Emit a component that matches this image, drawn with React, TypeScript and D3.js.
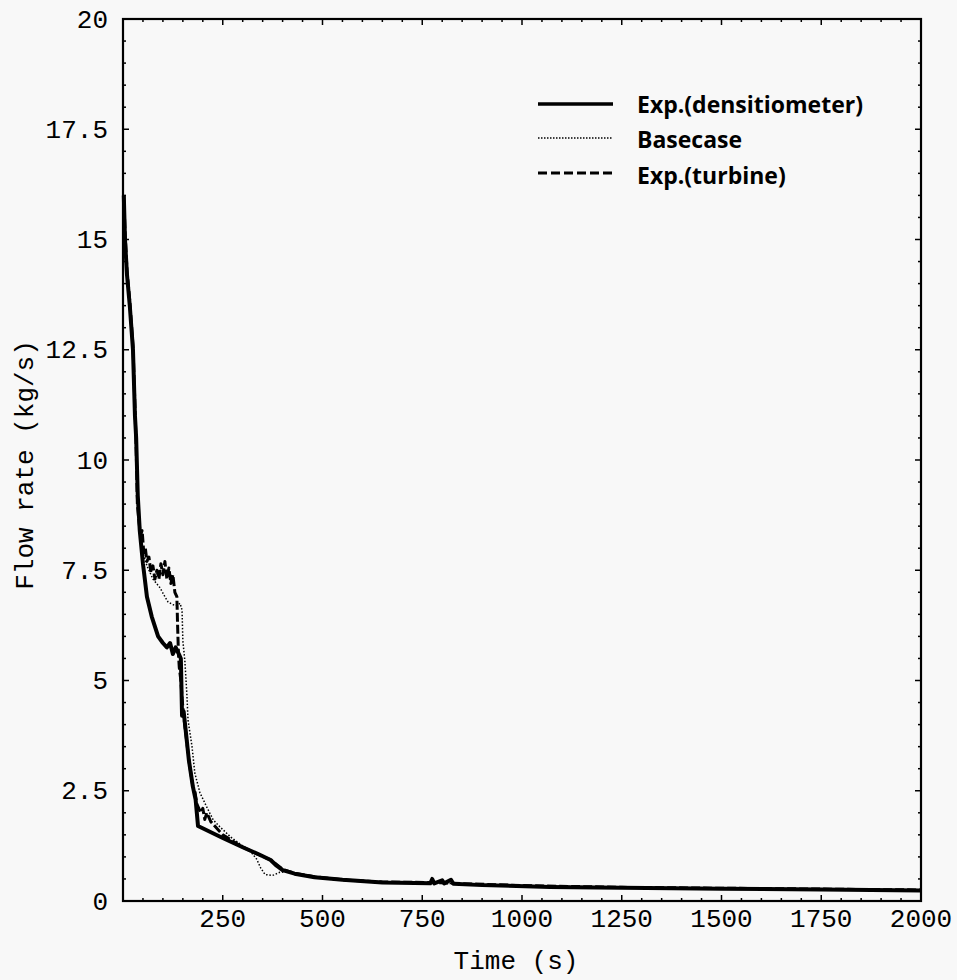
import React from "react";
import * as d3 from "d3";

// ---- data ----
const densT = [2, 5, 10, 17, 25, 30, 33, 37, 42, 50, 60, 72, 88, 100, 110, 118, 125, 132, 140, 145, 148, 152, 158, 165, 175, 182, 188, 250, 300, 340, 370, 385, 400, 430, 480, 550, 650, 770, 775, 780, 800, 805, 822, 828, 900, 1070, 1250, 1500, 1750, 2000];
const densV = [16.0, 15.0, 14.2, 13.5, 12.5, 11.0, 10.5, 9.2, 8.4, 7.65, 6.9, 6.45, 6.0, 5.85, 5.75, 5.85, 5.6, 5.75, 5.6, 5.5, 4.2, 4.3, 3.8, 3.2, 2.6, 2.3, 1.7, 1.43, 1.22, 1.06, 0.93, 0.8, 0.7, 0.62, 0.54, 0.48, 0.42, 0.4, 0.5, 0.4, 0.47, 0.4, 0.48, 0.39, 0.36, 0.32, 0.3, 0.28, 0.26, 0.24];

const baseT = [2, 5, 10, 17, 25, 30, 33, 37, 40, 45, 50, 60, 75, 93, 105, 113, 125, 135, 143, 148, 150, 155, 160, 163, 173, 180, 193, 210, 226, 243, 270, 300, 318, 335, 345, 356, 375, 393, 410, 450, 500, 600, 800, 1000, 1250, 1500, 1750, 2000];
const baseV = [16.0, 15.1, 14.3, 13.6, 12.6, 11.3, 10.4, 9.2, 8.6, 8.2, 7.9, 7.6, 7.3, 7.1, 6.9, 6.78, 6.72, 6.7, 6.75, 6.6, 5.9, 5.45, 4.7, 4.1, 3.5, 2.9, 2.45, 2.13, 1.84, 1.68, 1.45, 1.25, 1.14, 0.95, 0.75, 0.6, 0.58, 0.65, 0.66, 0.6, 0.53, 0.45, 0.4, 0.35, 0.31, 0.29, 0.27, 0.25];

const turbT = [2, 5, 10, 17, 25, 30, 33, 36, 40, 44, 48, 52, 56, 60, 65, 70, 75, 80, 85, 90, 95, 100, 105, 110, 115, 120, 125, 130, 135, 137, 139, 141, 145, 148, 152, 156, 160, 165, 170, 175, 180, 185, 190, 195, 200, 205, 210, 220, 235, 250, 300, 340, 370, 400, 430, 480, 550, 650, 780, 830, 1000, 1250, 1500, 1750, 2000];
const turbV = [16.0, 15.2, 14.3, 13.6, 12.6, 11.2, 10.3, 9.0, 8.6, 8.3, 8.4, 7.9, 8.0, 7.7, 7.8, 7.45, 7.6, 7.3, 7.5, 7.3, 7.65, 7.4, 7.7, 7.3, 7.55, 7.2, 7.4, 7.0, 6.9, 6.2, 5.6, 5.3, 5.0, 4.6, 4.2, 3.9, 3.6, 3.2, 2.9, 2.6, 2.5, 2.2, 2.1, 2.0, 2.1, 1.85, 2.0, 1.8, 1.65, 1.5, 1.22, 1.05, 0.93, 0.72, 0.63, 0.55, 0.48, 0.43, 0.42, 0.4, 0.35, 0.31, 0.29, 0.27, 0.25];

const yTickLabels = ["0", "2.5", "5", "7.5", "10", "12.5", "15", "17.5", "20"];
const xTickLabels = ["250", "500", "750", "1000", "1250", "1500", "1750", "2000"];
const legendLabels = ["Exp.(densitiometer)", "Basecase", "Exp.(turbine)"];

const W = 957;
const H = 980;
const X0 = 123, X1 = 921, YB = 901, YT = 19;

export default function App() {
  const x = d3.scaleLinear().domain([0, 2000]).range([X0, X1]);
  const y = d3.scaleLinear().domain([0, 20]).range([YB, YT]);
  const line = d3.line<[number, number]>().x((d) => x(d[0])).y((d) => y(d[1]));
  const zip = (t: number[], v: number[]) => t.map((tt, i) => [tt, v[i]] as [number, number]);

  const mono = "'Liberation Mono', 'DejaVu Sans Mono', monospace";
  const legendFont = "'Open Sans', Roboto, sans-serif";

  const yMinor = d3.range(0, 20.001, 0.5);
  const xMinor = d3.range(0, 2000.001, 50);

  const legendStyles = [
    { w: 3.5, dash: undefined as string | undefined },
    { w: 1.3, dash: "1.5,1.5" },
    { w: 3, dash: "9,4" },
  ];
  const legendLineY = [104, 138, 173];
  const legendTextY = [113, 148, 184];

  return (
    <svg width={W} height={H} style={{ position: "absolute", left: 0, top: 0, background: "#f8f8f8" }}>
      <rect x={0} y={0} width={W} height={H} fill="#f8f8f8" />
      {yMinor.map((v, i) => {
        const major = Math.abs(v / 2.5 - Math.round(v / 2.5)) < 1e-6;
        const len = major ? 6 : 3;
        return (
          <g key={"yt" + i} stroke="#000" strokeWidth={1.5}>
            <line x1={X0} x2={X0 + len} y1={y(v)} y2={y(v)} />
            <line x1={X1} x2={X1 - len} y1={y(v)} y2={y(v)} />
          </g>
        );
      })}
      {xMinor.map((v, i) => {
        const major = v % 250 === 0;
        const len = major ? 6 : 3;
        return (
          <g key={"xt" + i} stroke="#000" strokeWidth={1.5}>
            <line x1={x(v)} x2={x(v)} y1={YB} y2={YB - len} />
            <line x1={x(v)} x2={x(v)} y1={YT} y2={YT + len} />
          </g>
        );
      })}
      <rect x={X0} y={YT} width={X1 - X0} height={YB - YT} fill="none" stroke="#000" strokeWidth={2.2} />

      {yTickLabels.map((s) => (
        <text key={"yl" + s} x={108} y={y(+s) + 8.5} textAnchor="end" fontFamily={mono} fontSize={26} fill="#000">
          {s}
        </text>
      ))}
      {xTickLabels.map((s) => (
        <text key={"xl" + s} x={x(+s)} y={927} textAnchor="middle" fontFamily={mono} fontSize={26} fill="#000">
          {s}
        </text>
      ))}
      <text x={516} y={969} textAnchor="middle" fontFamily={mono} fontSize={26} fill="#000">
        Time (s)
      </text>
      <text transform={`translate(33,465) rotate(-90)`} textAnchor="middle" fontFamily={mono} fontSize={26} fill="#000">
        Flow rate (kg/s)
      </text>

      <path d={line(zip(baseT, baseV)) || ""} fill="none" stroke="#000" strokeWidth={1.5} strokeDasharray="1.5,1.8" />
      <path d={line(zip(turbT, turbV)) || ""} fill="none" stroke="#000" strokeWidth={3} strokeDasharray="9,3" strokeLinejoin="round" />
      <path d={line(zip(densT, densV)) || ""} fill="none" stroke="#000" strokeWidth={4} strokeLinejoin="round" />

      {legendLabels.map((s, i) => (
        <g key={"lg" + i}>
          <line x1={538} x2={613} y1={legendLineY[i]} y2={legendLineY[i]} stroke="#000" strokeWidth={legendStyles[i].w} strokeDasharray={legendStyles[i].dash} />
          <text x={637} y={legendTextY[i]} fontFamily={legendFont} fontWeight={700} fontSize={23} fill="#000">
            {s}
          </text>
        </g>
      ))}
    </svg>
  );
}
